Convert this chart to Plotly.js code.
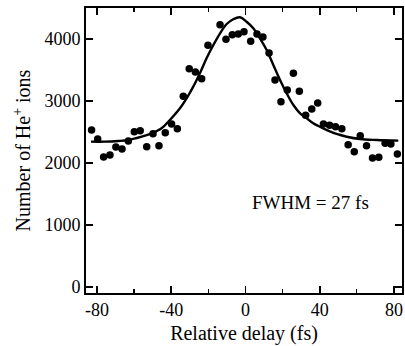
<!DOCTYPE html>
<html>
<head>
<meta charset="utf-8">
<script src="https://cdn.plot.ly/plotly-3.0.1.min.js"></script>
<style>
html,body{margin:0;padding:0;background:#fff;}
#chart{width:405px;height:346px;}
</style>
</head>
<body>
<div id="chart"></div>
<script>
// Measured data points: relative delay (fs) and number of He+ ions
const delay = [-82.9,-79.6,-76.4,-73.0,-69.8,-66.5,-63.1,-59.9,-56.7,-53.2,-49.8,-46.6,-43.2,-39.8,-36.7,-33.5,-30.3,-27.0,-23.6,-20.2,-13.7,-10.5,-7.1,-3.9,-0.8,2.8,6.2,9.4,12.7,15.9,19.1,22.5,25.8,29.0,32.4,35.7,38.9,42.0,45.3,48.5,51.9,55.3,58.6,61.8,65.2,68.4,71.8,75.2,78.3,81.8];
const counts = [2532,2387,2097,2129,2258,2226,2355,2505,2521,2263,2473,2279,2487,2629,2553,3076,3521,3468,3360,3898,4231,3995,4069,4081,4118,3963,4081,4032,3774,3339,2989,3177,3447,3156,2769,2871,2968,2629,2610,2585,2553,2295,2182,2440,2279,2080,2092,2318,2306,2145];

// Fitted curve
const fitDelay = [-83.2,-75.7,-68.5,-63.1,-55.9,-50.5,-45.2,-40.7,-35.3,-31.7,-28.2,-24.5,-20.9,-17.3,-13.7,-10.1,-6.6,-3.0,0.6,4.2,7.8,11.4,15.0,18.6,22.2,25.8,29.4,33.0,36.5,41.9,49.1,54.5,61.7,70.7,82.3];
const fitCounts = [2344,2344,2355,2371,2424,2478,2559,2694,2882,3044,3227,3452,3694,3903,4092,4242,4318,4350,4279,4173,4011,3823,3581,3339,3124,2935,2802,2721,2640,2559,2468,2424,2387,2371,2360];

const xTicks = [-80,-40,0,40,80];
const xTickText = ['-80','-40','0','40','80'];
const yTicks = [0,1000,2000,3000,4000];
const yTickText = ['0','1000','2000','3000','4000'];

const serif = '"Liberation Serif", "DejaVu Serif", serif';

const traces = [
  {x: fitDelay, y: fitCounts, type:'scatter', mode:'lines',
   line:{color:'#000', width:2.4, shape:'spline', smoothing:1}, hoverinfo:'skip'},
  {x: delay, y: counts, type:'scatter', mode:'markers',
   marker:{color:'#000', size:7.5}}
];

const layout = {
  width:405, height:346,
  margin:{l:86, r:3, t:8, b:53},
  paper_bgcolor:'#fff', plot_bgcolor:'#fff',
  showlegend:false,
  font:{family:serif, color:'#000', size:18},
  xaxis:{
    range:[-85.9,84.3], tickvals:xTicks, ticktext:xTickText,
    ticks:'inside', ticklen:7, tickwidth:1.5, tickcolor:'#000',
    minor:{tickvals:[-60,-20,20,60], ticks:'inside', ticklen:4, tickwidth:1.2, tickcolor:'#000'},
    showline:true, linecolor:'#000', linewidth:1.8, mirror:'ticks',
    showgrid:false, zeroline:false,
    tickfont:{family:serif, size:18, color:'#000'},
    title:{text:'Relative delay (fs)', font:{family:serif, size:20, color:'#000'}, standoff:6}
  },
  yaxis:{
    range:[-97,4500], tickvals:yTicks, ticktext:yTickText,
    ticks:'inside', ticklen:7, tickwidth:1.5, tickcolor:'#000',
    showline:true, linecolor:'#000', linewidth:1.8, mirror:'ticks',
    showgrid:false, zeroline:false,
    tickfont:{family:serif, size:18, color:'#000'},
    title:{text:'Number of He<sup>+</sup> ions', font:{family:serif, size:20, color:'#000'}, standoff:8}
  },
  annotations:[
    {x:34.8, y:1355, xref:'x', yref:'y', text:'FWHM = 27 fs', showarrow:false,
     font:{family:serif, size:19, color:'#000'}}
  ]
};

Plotly.newPlot('chart', traces, layout, {displayModeBar:false, staticPlot:true});
</script>
</body>
</html>
